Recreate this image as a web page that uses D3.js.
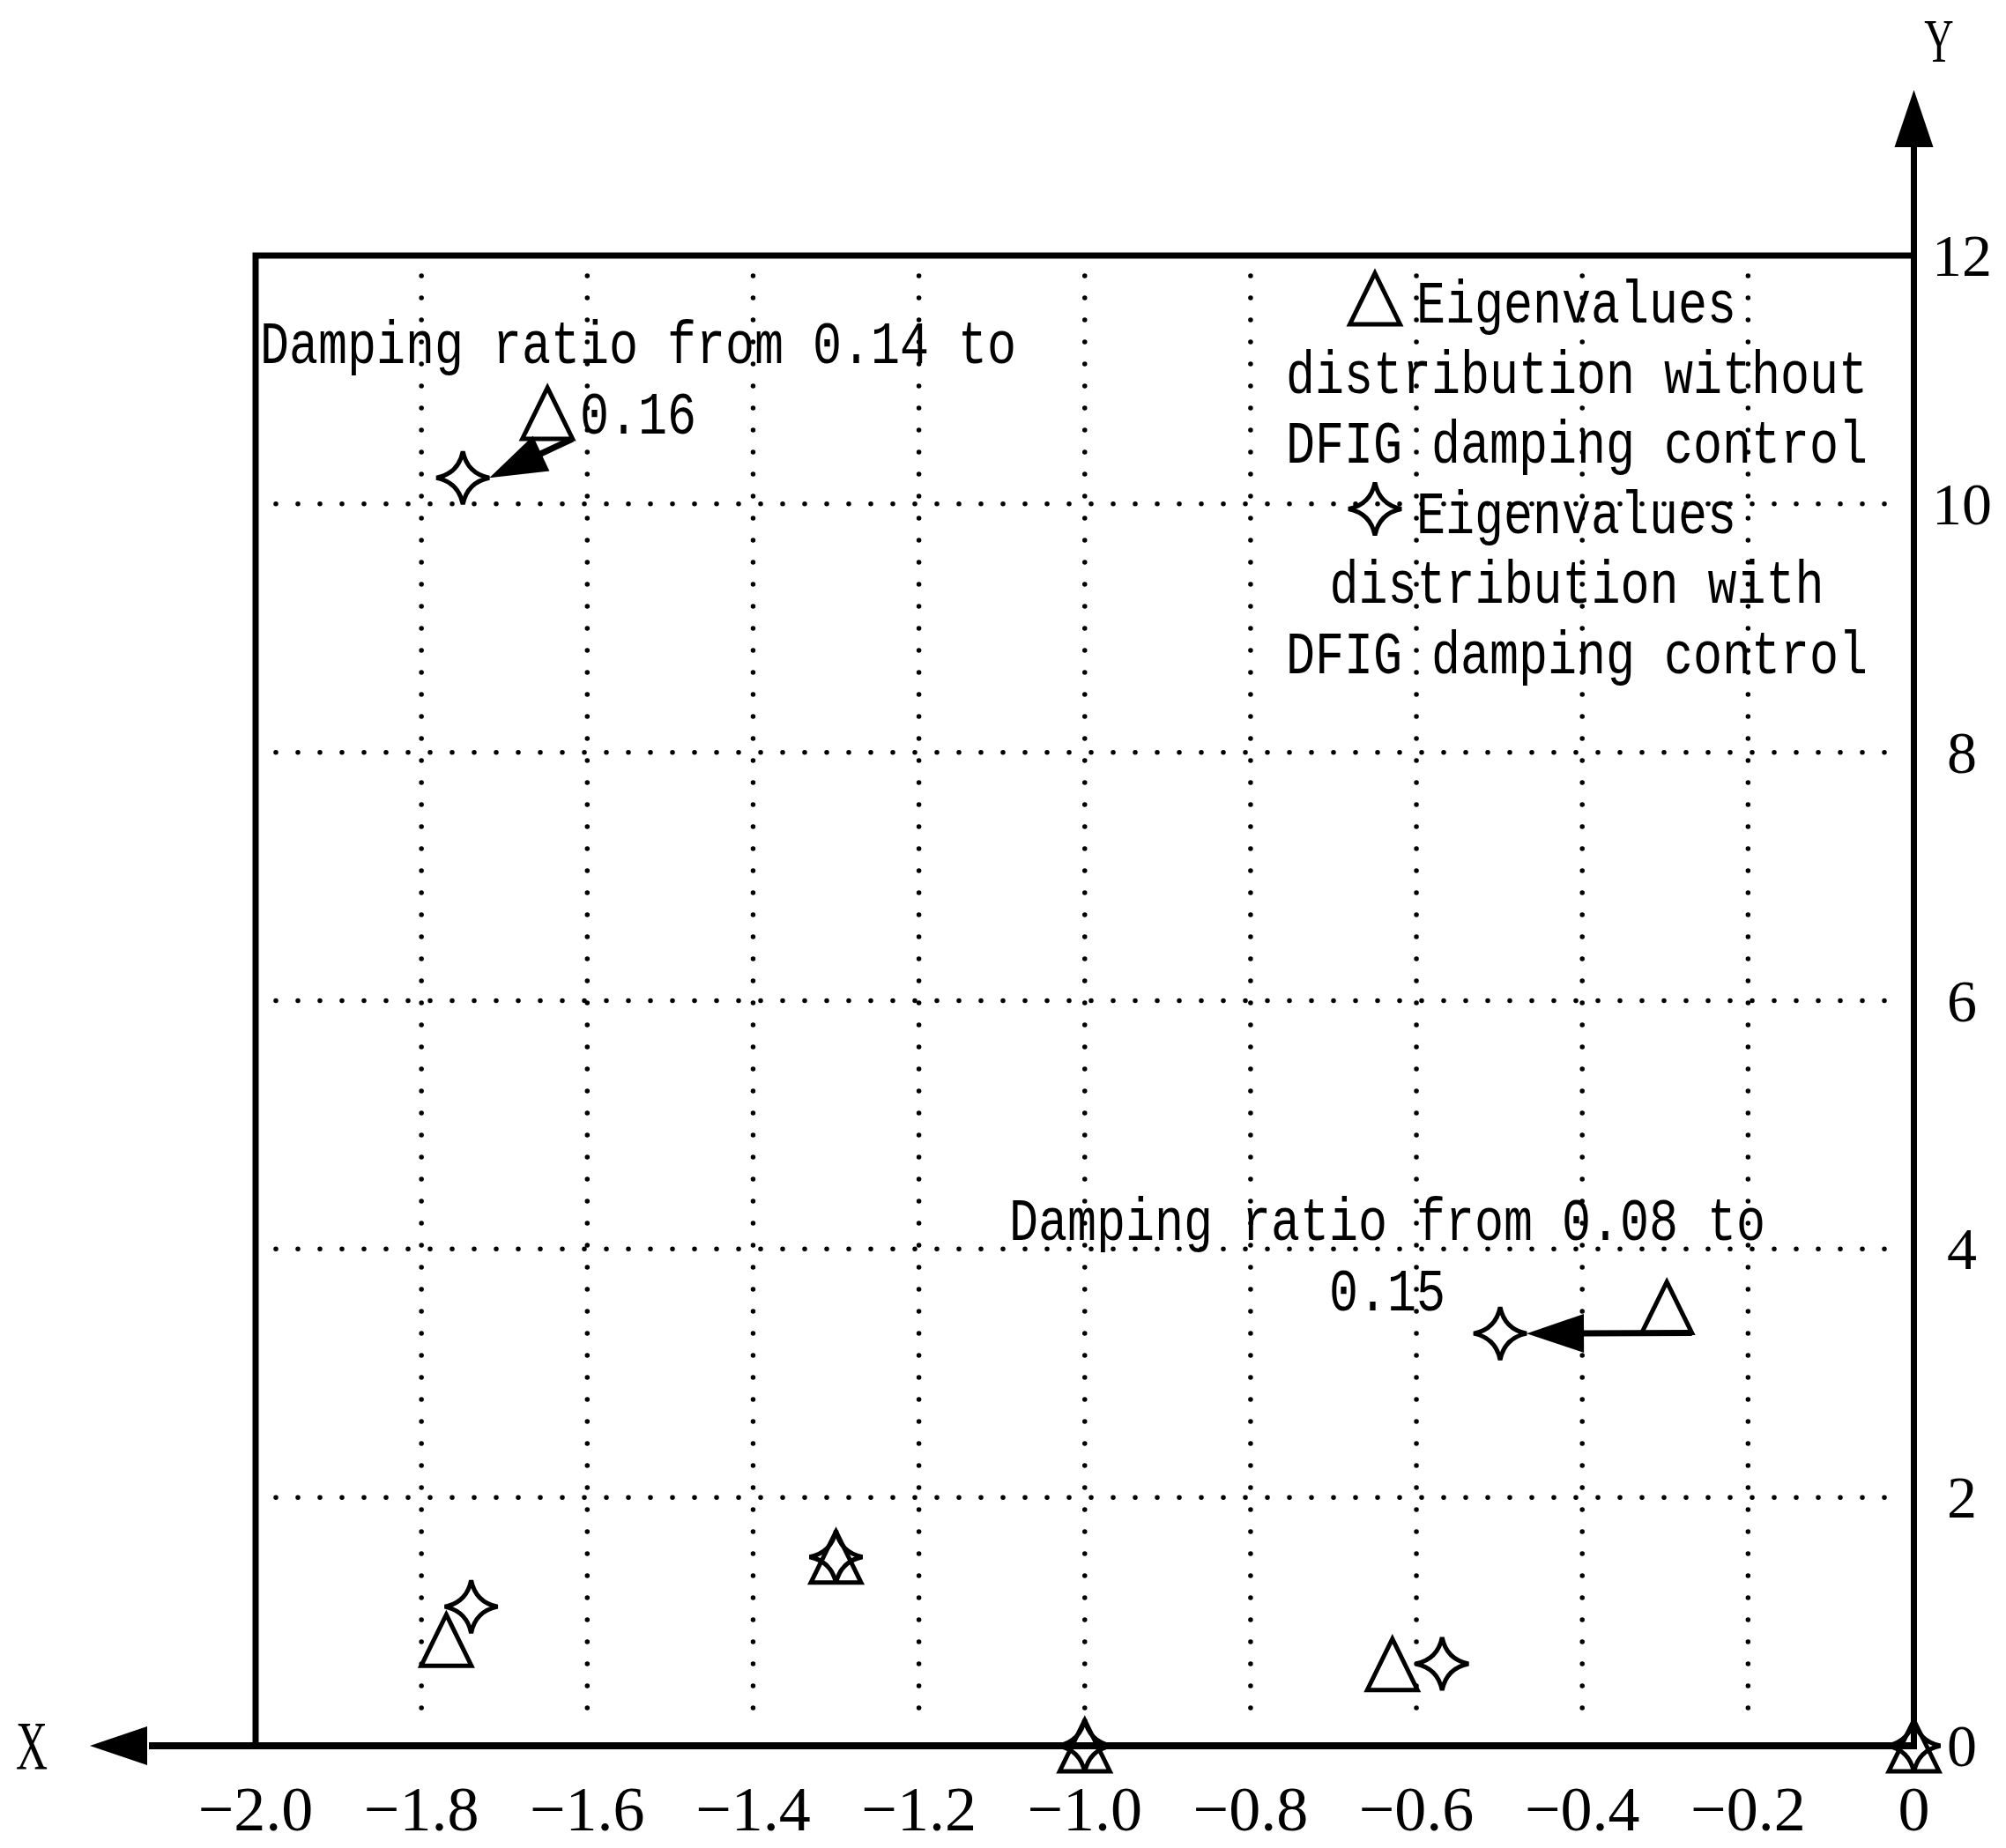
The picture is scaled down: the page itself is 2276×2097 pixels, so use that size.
<!DOCTYPE html>
<html>
<head>
<meta charset="utf-8">
<script src="https://cdn.jsdelivr.net/npm/d3@7"></script>
<style>
  html, body { margin: 0; padding: 0; background: #fff; }
  svg { display: block; }
</style>
</head>
<body>
<script>
// ---------------- DATA ----------------
const xTicks = [-2.0, -1.8, -1.6, -1.4, -1.2, -1.0, -0.8, -0.6, -0.4, -0.2, 0];
const xTickLabels = ["\u22122.0", "\u22121.8", "\u22121.6", "\u22121.4", "\u22121.2", "\u22121.0", "\u22120.8", "\u22120.6", "\u22120.4", "\u22120.2", "0"];
const yTicks = [0, 2, 4, 6, 8, 10, 12];
const yTickLabels = ["0", "2", "4", "6", "8", "10", "12"];
const xGridValues = [-1.8, -1.6, -1.4, -1.2, -1.0, -0.8, -0.6, -0.4, -0.2];
const yGridValues = [2, 4, 6, 8, 10];

// Eigenvalues without DFIG damping control (triangles)
const withoutRe = [-1.648, -0.298, -1.770, -1.300, -0.629, -1.0, 0];
const withoutIm = [10.73, 3.53, 0.85, 1.52, 0.655, 0, 0];
// Eigenvalues with DFIG damping control (stars)
const withRe = [-1.750, -0.499, -1.740, -1.300, -0.569, -1.0, 0];
const withIm = [10.21, 3.32, 1.12, 1.52, 0.66, 0, 0];

// indices of modes whose shift is annotated with an arrow
const arrowModes = [0, 1];
const annotationLines = [
  ["Damping ratio from 0.14 to", "0.16"],
  ["Damping ratio from 0.08 to", "0.15"]
];
const legendLines = [
  { sym: "tri", text: "Eigenvalues" },
  { sym: null, text: "distribution without" },
  { sym: null, text: "DFIG damping control" },
  { sym: "star", text: "Eigenvalues" },
  { sym: null, text: "distribution with" },
  { sym: null, text: "DFIG damping control" }
];
const axisNames = { x: "X", y: "Y" };

// ---------------- LAYOUT ----------------
const W = 2276, H = 2097;
const plotLeft = 290, plotRight = 2171.5, plotTop = 290, plotBottom = 1981;
const monoFont = "'Liberation Mono', 'DejaVu Sans Mono', monospace";
const serifFont = "'Liberation Serif', 'DejaVu Serif', serif";
const charAdv = 33;          // advance of one monospaced character
const monoSize = 69;
const monoScale = charAdv / (0.6 * monoSize);  // horizontal squeeze to mimic narrow glyphs
const lineStep = 79.5;

const svg = d3.select("body").append("svg")
  .attr("width", W).attr("height", H)
  .attr("viewBox", `0 0 ${W} ${H}`);
svg.append("rect").attr("width", W).attr("height", H).attr("fill", "#fff");

const x = d3.scaleLinear().domain([-2, 0]).range([plotLeft, plotRight]);
const y = d3.scaleLinear().domain([0, 12]).range([plotBottom, plotTop]);

// ---------------- GRID (dotted) ----------------
const gridInset = 23;
const dotStyle = g => g.attr("stroke", "#000").attr("stroke-width", 5.5)
  .attr("stroke-linecap", "round").attr("stroke-dasharray", "0 25");

svg.append("g").selectAll("line").data(xGridValues).join("line")
  .attr("x1", d => x(d)).attr("x2", d => x(d))
  .attr("y1", plotTop + gridInset).attr("y2", plotBottom - gridInset)
  .call(dotStyle);
svg.append("g").selectAll("line").data(yGridValues).join("line")
  .attr("y1", d => y(d)).attr("y2", d => y(d))
  .attr("x1", plotLeft + gridInset).attr("x2", plotRight - 10)
  .call(dotStyle);

// ---------------- FRAME ----------------
svg.append("path")
  .attr("d", `M${plotLeft},${plotBottom} L${plotLeft},${plotTop} L${plotRight},${plotTop}`)
  .attr("fill", "none").attr("stroke", "#000").attr("stroke-width", 7)
  .attr("stroke-linecap", "square");

// ---------------- AXES with arrows ----------------
const arrowLen = 65, arrowHalf = 22;
function arrowHead(g, tip, dir) {
  const bx = tip[0] - dir[0] * arrowLen, by = tip[1] - dir[1] * arrowLen;
  const px = -dir[1] * arrowHalf, py = dir[0] * arrowHalf;
  g.append("path")
    .attr("d", `M${tip[0]},${tip[1]} L${bx + px},${by + py} L${bx - px},${by - py} Z`)
    .attr("fill", "#000").attr("stroke", "none");
  return [bx, by];
}
const axes = svg.append("g");
const xTip = [102, y(0)];
const xBase = arrowHead(axes, xTip, [-1, 0]);
axes.append("line").attr("x1", x(0)).attr("x2", xBase[0] + 2)
  .attr("y1", y(0)).attr("y2", y(0))
  .attr("stroke", "#000").attr("stroke-width", 8);
const yTip = [x(0), 102];
const yBase = arrowHead(axes, yTip, [0, -1]);
axes.append("line").attr("x1", x(0)).attr("x2", x(0))
  .attr("y1", y(0) + 4).attr("y2", yBase[1] - 2)
  .attr("stroke", "#000").attr("stroke-width", 7);

function squeezedText(g, str, px, py, anchor, family, size, sx) {
  return g.append("g").attr("transform", `translate(${px},${py}) scale(${sx},1)`)
    .append("text").text(str)
    .attr("x", 0).attr("y", 0)
    .attr("text-anchor", anchor)
    .attr("font-family", family).attr("font-size", size)
    .attr("fill", "#000");
}
squeezedText(axes, axisNames.x, 36, y(0) + 26, "middle", serifFont, 78, 0.64);
squeezedText(axes, axisNames.y, 2200, 70, "middle", serifFont, 70, 0.66);

// tick labels
svg.append("g").selectAll("text").data(xTicks).join("text")
  .text((d, i) => xTickLabels[i])
  .attr("x", d => x(d)).attr("y", 2077)
  .attr("text-anchor", "middle")
  .attr("font-family", serifFont).attr("font-size", 72);
svg.append("g").selectAll("text").data(yTicks).join("text")
  .text((d, i) => yTickLabels[i])
  .attr("x", 2226).attr("y", d => y(d) + 23)
  .attr("text-anchor", "middle")
  .attr("font-family", serifFont).attr("font-size", 68);

// ---------------- MARKERS ----------------
const triHalfW = 28.5, triHalfH = 29, starR = 30, starC = 5;
const triPath = `M0,${-triHalfH} L${triHalfW},${triHalfH} L${-triHalfW},${triHalfH} Z`;
const starPath = `M0,${-starR} Q${starC},${-starC} ${starR},0 Q${starC},${starC} 0,${starR} Q${-starC},${starC} ${-starR},0 Q${-starC},${-starC} 0,${-starR} Z`;
const markerStyle = s => s.attr("fill", "none").attr("stroke", "#000")
  .attr("stroke-width", 5).attr("stroke-linejoin", "miter");

const withoutPts = withoutRe.map((v, i) => ({ re: v, im: withoutIm[i] }));
const withPts = withRe.map((v, i) => ({ re: v, im: withIm[i] }));

svg.append("g").selectAll("path").data(withoutPts).join("path")
  .attr("d", triPath)
  .attr("transform", d => `translate(${x(d.re)},${y(d.im)})`)
  .call(markerStyle);
svg.append("g").selectAll("path").data(withPts).join("path")
  .attr("d", starPath)
  .attr("transform", d => `translate(${x(d.re)},${y(d.im)})`)
  .call(markerStyle);

// ---------------- SHIFT ARROWS ----------------
const arrows = svg.append("g");
arrowModes.forEach(i => {
  const s = [x(withoutRe[i]) + triHalfW, y(withoutIm[i]) + triHalfH];
  const e = [x(withRe[i]) + starR, y(withIm[i])];
  const len = Math.hypot(e[0] - s[0], e[1] - s[1]);
  const dir = [(e[0] - s[0]) / len, (e[1] - s[1]) / len];
  const b = arrowHead(arrows, e, dir);
  arrows.append("line").attr("x1", s[0]).attr("y1", s[1])
    .attr("x2", b[0] + dir[0] * 2).attr("y2", b[1] + dir[1] * 2)
    .attr("stroke", "#000").attr("stroke-width", 7);
});

// ---------------- TEXT ----------------
function monoText(g, str, px, py, anchor) {
  return squeezedText(g, str, px, py, anchor, monoFont, monoSize, monoScale);
}

const annotationAnchors = [[724, 412], [1574, 1407]];
const ann = svg.append("g");
annotationLines.forEach((lines, k) => {
  lines.forEach((l, j) => {
    monoText(ann, l, annotationAnchors[k][0], annotationAnchors[k][1] + j * 80, "middle");
  });
});

// ---------------- LEGEND ----------------
const legendCenter = 1789, legendBase = 366, legendTextStart = 1607, legendSymX = 1560;
const leg = svg.append("g");
legendLines.forEach((l, j) => {
  const by = legendBase + j * lineStep;
  if (l.sym) {
    leg.append("path").attr("d", l.sym === "tri" ? triPath : starPath)
      .attr("transform", `translate(${legendSymX},${by - 27})`)
      .call(markerStyle);
    monoText(leg, l.text, legendTextStart, by, "start");
  } else {
    monoText(leg, l.text, legendCenter, by, "middle");
  }
});
</script>
</body>
</html>
